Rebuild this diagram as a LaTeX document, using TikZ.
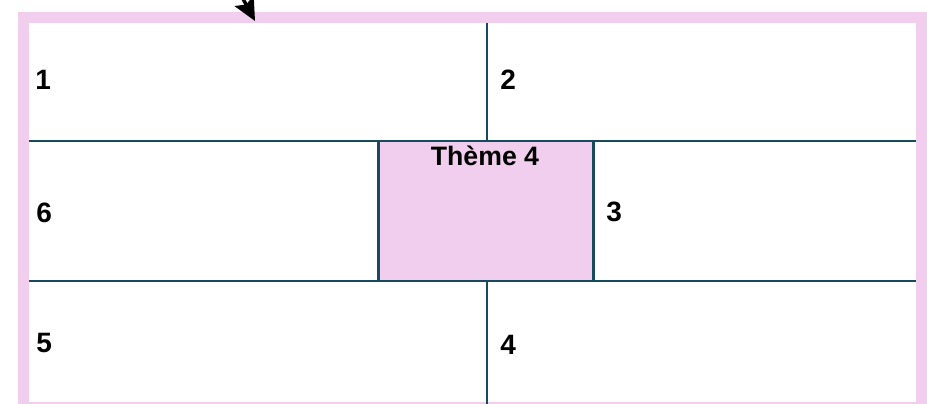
\documentclass[tikz,border=0pt]{standalone}
\usepackage{fontspec}
\setmainfont{Liberation Sans}
\definecolor{framepink}{RGB}{242, 206, 238}
\definecolor{gridteal}{RGB}{24, 74, 94}
\usetikzlibrary{arrows.meta, positioning}

\begin{document}
\begin{tikzpicture}[
        x=0.75pt, y=-0.75pt,
        frame/.style={draw=framepink, line width=8.25pt},
        gridline/.style={draw=gridteal, line width=1.9pt},
        themebox/.style={rectangle, draw=gridteal, fill=framepink, line width=1.9pt,
                    minimum width=161pt, minimum height=105pt},
        num/.style={anchor=west, inner sep=0pt, font=\fontsize{21}{24}\selectfont\bfseries},
        arrow/.style={-{Stealth[length=17pt, width=16pt, inset=3pt]}, line width=2.6pt, color=black}
      ]
        \useasboundingbox (0,0) rectangle (927,403);
        \clip (0,0) rectangle (927,403);
        \draw[frame] (23.5,17.5) rectangle (921.5,407);
        \draw[gridline] (29,141) -- (916,141);
        \draw[gridline] (29,281) -- (916,281);
        \draw[gridline] (487,23) -- (487,141);
        \draw[gridline] (487,281) -- (487,405);
        \node[themebox] (theme) at (486,211) {};
        \node[num, anchor=north, font=\fontsize{20}{24}\selectfont\bfseries] (themelabel) at (485,146) {Thème 4};
        \node[num] (c1) at (35,80) {1};
        \node[num] (c2) at (500,80) {2};
        \node[num] (c3) at (606,212) {3};
        \node[num] (c4) at (500,345) {4};
        \node[num] (c5) at (36,343) {5};
        \node[num] (c6) at (36,213) {6};
        \coordinate (tail) at (236,-14);
        \coordinate (tip) at (255,21);
        \draw[arrow] (tail) -- (tip);
      \end{tikzpicture}
\end{document}
